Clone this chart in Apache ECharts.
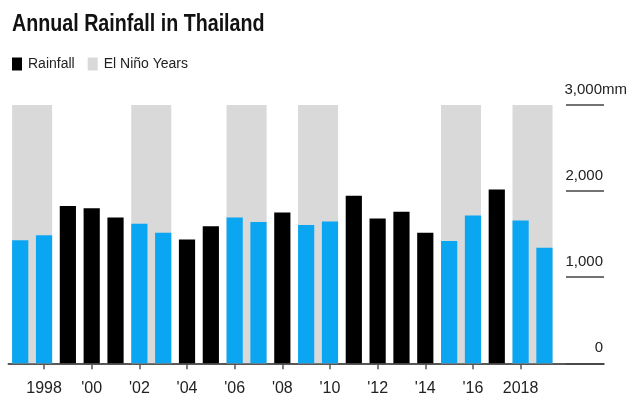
<!DOCTYPE html>
<html>
<head>
<meta charset="utf-8">
<script src="https://cdn.jsdelivr.net/npm/echarts@6/dist/echarts.min.js"></script>
<style>
html,body{margin:0;padding:0;background:#fff;}
#chart{width:640px;height:402px;}
</style>
</head>
<body>
<div id="chart"></div>
<script>
// ---- data ----
const titleText = 'Annual Rainfall in Thailand';
const years = ['1997','1998','1999','2000','2001','2002','2003','2004','2005','2006','2007','2008','2009','2010','2011','2012','2013','2014','2015','2016','2017','2018','2019','2020','2021'];
const rainfall = [1430,1488,1826,1802,1694,1620,1515,1438,1593,1694,1640,1752,1605,1647,1946,1682,1760,1515,1419,1717,2019,1659,1341,null,null];
const elNinoPeriods = [[1997,1998],[2002,2003],[2006,2007],[2009,2010],[2015,2016],[2018,2019]];
const yTicks = [0,1000,2000,3000];
const fullLabelYears = ['1998','2018'];
const lastDataYear = 2019;

const FONT = '"Liberation Sans Narrow","Liberation Sans",Arial,sans-serif';
const BLUE = '#0ba6f2';
const GRAY = '#d9d9d9';
const BAR_RATIO = 0.68;

function isElNino(y){
  return elNinoPeriods.some(p => y >= p[0] && y <= p[1]);
}

const barData = years.map((y,i) => {
  const v = rainfall[i];
  if (v == null) return null;
  return isElNino(+y) ? {value: v, itemStyle:{color: BLUE}} : {value: v};
});

const bandData = elNinoPeriods.map(p => [years.indexOf(String(p[0])), years.indexOf(String(p[1])), yTicks[yTicks.length-1]]);

function showYear(idx, val){
  const y = +val;
  return y % 2 === 0 && y <= lastDataYear;
}

function fmtNum(v){
  return String(v).replace(/\B(?=(\d{3})+(?!\d))/g, ',');
}

const chart = echarts.init(document.getElementById('chart'));
chart.setOption({
  animation: false,
  backgroundColor: '#fff',
  textStyle: {fontFamily: FONT},
  graphic: [{
    type: 'text',
    x: 12, y: 12,
    scaleX: 0.82,
    style: {
      text: titleText,
      fontFamily: FONT, fontSize: 24, fontWeight: 'bold',
      fill: '#111',
      verticalAlign: 'top', align: 'left'
    }
  }],
  legend: {
    left: 12, top: 57,
    padding: 0,
    icon: 'rect',
    itemWidth: 10, itemHeight: 13, itemGap: 13,
    textStyle: {fontFamily: FONT, fontSize: 14, color: '#222', padding: [0,0,0,1]},
    data: ['Rainfall', 'El Niño Years'],
    selectedMode: false
  },
  grid: {left: 8.3, right: 36, top: 105, bottom: 38.7, containLabel: false},
  xAxis: {
    type: 'category',
    data: years,
    boundaryGap: true,
    axisLine: {show: true, lineStyle: {color: '#222', width: 1.5}},
    axisTick: {show: true, alignWithLabel: true, interval: showYear, length: 6, lineStyle: {color: '#555', width: 1.5}},
    axisLabel: {
      interval: showYear,
      margin: 17,
      fontFamily: FONT, fontSize: 16, color: '#222',
      formatter: v => fullLabelYears.includes(v) ? v : "'" + v.slice(2)
    },
    splitLine: {show: false}
  },
  yAxis: {
    type: 'value',
    position: 'right',
    min: 0, max: 3000, interval: 1000,
    axisLine: {show: false},
    axisTick: {show: true, inside: true, length: 38, lineStyle: {color: '#444', width: 1.5}},
    splitLine: {show: false},
    axisLabel: {
      margin: 23,
      align: 'right',
      verticalAlign: 'bottom',
      padding: [0,0,8,0],
      fontFamily: FONT, fontSize: 15, color: '#222',
      formatter: v => v === yTicks[yTicks.length-1] ? fmtNum(v) + 'mm' : '{v|' + fmtNum(v) + '}',
      rich: {v: {fontFamily: FONT, fontSize: 15, color: '#222', padding: [0,24,0,0]}}
    }
  },
  series: [
    {
      name: 'El Niño Years',
      type: 'custom',
      z: 1,
      itemStyle: {color: GRAY},
      encode: {x: [0,1], y: 2},
      data: bandData,
      renderItem: function(params, api){
        const top = api.coord([api.value(0), api.value(2)]);
        const bot = api.coord([api.value(1), 0]);
        const bw = api.size([1,0])[0] * BAR_RATIO;
        return {
          type: 'rect',
          shape: {x: top[0] - bw/2, y: top[1], width: bot[0] - top[0] + bw, height: bot[1] - top[1]},
          style: {fill: GRAY}
        };
      }
    },
    {
      name: 'Rainfall',
      type: 'bar',
      z: 2,
      barWidth: (BAR_RATIO*100) + '%',
      itemStyle: {color: '#000'},
      data: barData
    }
  ]
});
</script>
</body>
</html>
